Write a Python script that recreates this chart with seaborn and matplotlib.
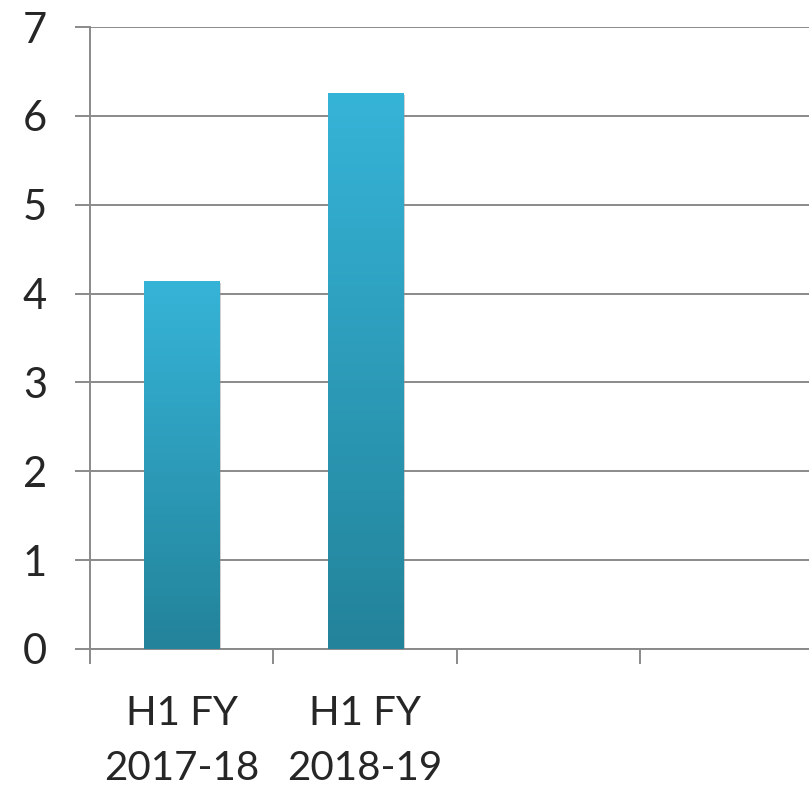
import numpy as np
import pandas as pd
import seaborn as sns
import matplotlib.pyplot as plt
import matplotlib.patheffects as pe
from matplotlib.colors import LinearSegmentedColormap
from matplotlib.ticker import FixedLocator

# values
periods = ['H1 FY\n2017-18', 'H1 FY\n2018-19', '', '']
values = [4.14, 6.26, np.nan, np.nan]
y_ticks = [0, 1, 2, 3, 4, 5, 6, 7]

df = pd.DataFrame({'period': [f'p{i}' for i in range(4)], 'value': values})

sns.set_style('white')
plt.rcParams['font.family'] = ['Lato', 'DejaVu Sans']

fig = plt.figure(figsize=(8.09, 7.9), dpi=100)
ax = fig.add_axes([90 / 809, 1 - 649 / 790, 1 - 90 / 809, (649 - 27) / 790])

grey = '#8a8a8a'
sns.barplot(data=df, x='period', y='value', width=0.41, color='#2ea2c2',
            ax=ax, zorder=3)

# gradient fill, lighter at the top like the original
cmap = LinearSegmentedColormap.from_list('bar', ['#23839a', '#36b4d8'])
grad = np.linspace(0, 1, 256).reshape(-1, 1)
for p in list(ax.patches):
    h = p.get_height()
    if np.isnan(h) or h == 0:
        continue
    x0, w = p.get_x(), p.get_width()
    p.set_facecolor('none')
    p.set_edgecolor('none')
    shadow = plt.Rectangle((x0, 0), w, h, facecolor='#2ea2c2', edgecolor='none', zorder=2,
                           path_effects=[pe.SimplePatchShadow(offset=(1.5, -1.5),
                                                              shadow_rgbFace='#888888', alpha=0.4)])
    ax.add_patch(shadow)
    im = ax.imshow(grad, cmap=cmap, origin='lower', aspect='auto',
                   extent=(x0, x0 + w, 0, h), zorder=3)
    im.set_clip_path(p)

ax.set_xlim(-0.5, 3.42)
ax.set_ylim(0, 7)
ax.set_yticks(y_ticks)
ax.set_xticks(range(4))
ax.set_xticklabels(periods, fontsize=29, linespacing=1.62)
ax.xaxis.set_minor_locator(FixedLocator([-0.5, 0.5, 1.5, 2.5]))
ax.tick_params(axis='x', which='major', bottom=True, length=0, pad=33)
ax.tick_params(axis='x', which='minor', bottom=True, length=11, width=1.4,
               color=grey, direction='out')
ax.tick_params(axis='y', which='major', left=True, length=11, width=1.4, color=grey,
               direction='out', labelsize=30, pad=20)

ax.yaxis.grid(True, color=grey, linewidth=1.4, zorder=0)
ax.set_axisbelow(True)
for side in ['top', 'right']:
    ax.spines[side].set_visible(False)
for side in ['left', 'bottom']:
    ax.spines[side].set_color(grey)
    ax.spines[side].set_linewidth(1.4)
ax.set_xlabel('')
ax.set_ylabel('')

fig.savefig('out.png', dpi=100)
